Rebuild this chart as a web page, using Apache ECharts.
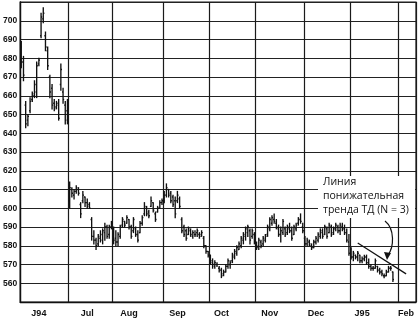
<!DOCTYPE html>
<html><head><meta charset="utf-8">
<script src="https://cdn.jsdelivr.net/npm/echarts@6/dist/echarts.min.js"></script>
<style>html,body{margin:0;padding:0;background:#fff}#c{width:419px;height:324px}</style>
</head><body><div id="c"></div>
<script>
// Month tick labels and trading-day counts per month (category slots)
const monthLabels = ['J94','Jul','Aug','Sep','Oct','Nov','Dec','J95','Feb'];
const monthDays   = [22, 20, 23, 21, 21, 22, 21, 22, 8];
const labelDay    = [8, 8, 7, 6, 5, 6, 5, 5, 3];
const yTicks = [560,570,580,590,600,610,620,630,640,650,660,670,680,690,700];

// OHLC bars per month: [open, high, low, close]
const jun94 = [[686,689,675,678],[678,681,668,671],[655,657,643,645],[647,650,644,649],[652,659,651,657],[658,662,657,661],[660,668,659,666],[662,678,659,676],[677,680,676,679],[692,704,691,702],[701,707,699,704],[692,694,684,686],[684,686,674,676],[670,671,659,662],[664,666,653,655],[656,658,652,653],[654,657,653,656],[655,658,647,648],[666,677,663,674],[662,664,656,658],[655,657,645,647],[652,658,645,646]];
const jul94 = [[604,614,600,611],[610,611,606,608],[607,610,605,609],[609,612,608,611],[610,611,607,608],[602,603,595,597],[604,609,603,607],[606,606,601,603],[603,605,600,601],[602,603,600,600],[594,595,583,585],[585,588,581,583],[583,584,578,580],[581,586,580,585],[584,588,582,586],[583,589,581,588],[587,592,583,590],[590,591,584,585],[586,591,584,590],[590,593,589,592]];
const aug94 = [[589,590,581,583],[584,588,580,582],[582,587,580,586],[585,591,584,590],[591,595,590,594],[593,593,590,591],[592,596,592,595],[594,594,589,590],[590,591,584,585],[588,595,587,594],[589,590,585,586],[586,588,582,583],[587,593,587,592],[592,596,591,595],[597,603,596,601],[600,601,596,597],[598,599,595,596],[601,606,601,604],[603,603,598,599],[597,598,593,594],[598,601,598,600],[600,604,600,603],[603,605,602,604]];
const sep94 = [[604,609,603,607],[607,613,606,611],[610,610,606,607],[608,609,603,604],[606,607,601,602],[604,606,595,597],[604,609,603,607],[605,606,600,601],[594,595,587,588],[590,591,585,586],[588,589,583,584],[586,590,586,589],[588,589,585,586],[585,588,584,587],[586,588,585,586],[587,589,585,588],[586,587,584,585],[586,588,585,587],[584,585,579,580],[580,580,576,577],[577,577,574,575]];
const oct94 = [[575,575,570,571],[572,573,568,570],[569,572,568,571],[570,571,569,570],[568,569,566,567],[567,568,563,564],[565,567,564,566],[566,570,566,569],[569,573,568,572],[570,572,568,571],[572,576,571,575],[574,578,573,577],[576,580,575,579],[578,582,578,581],[580,585,579,584],[583,587,581,586],[585,590,583,589],[587,591,585,590],[588,589,581,583],[585,589,584,588],[586,587,581,582]];
const nov94 = [[580,582,578,579],[580,584,578,583],[582,583,579,580],[581,585,580,584],[583,586,582,585],[586,591,585,590],[589,595,588,594],[592,596,591,595],[594,597,592,593],[592,594,589,590],[589,591,585,586],[586,590,582,588],[587,594,586,593],[589,590,585,586],[587,591,586,590],[589,592,587,588],[588,590,583,584],[586,591,586,590],[589,592,588,591],[592,595,591,594],[594,597,592,593],[590,592,587,588]];
const dec94 = [[584,585,580,581],[581,584,580,583],[582,583,580,581],[580,581,578,579],[579,583,579,582],[582,585,581,584],[583,587,582,586],[585,589,584,588],[587,589,584,585],[586,591,586,590],[589,590,584,585],[587,592,587,591],[590,591,585,586],[587,590,586,589],[589,592,588,591],[590,591,587,588],[588,592,586,591],[590,592,588,589],[589,591,586,587],[587,589,582,583],[582,586,575,576]];
const jan95 = [[578,579,573,574],[574,577,572,576],[575,575,573,574],[574,577,572,576],[575,575,571,572],[572,574,571,573],[573,575,572,574],[574,575,570,571],[571,573,568,569],[569,570,567,568],[568,569,567,568],[568,573,568,572],[569,569,566,567],[567,568,565,566],[566,567,564,565],[564,565,563,564],[564,567,564,566],[566,569,566,568],[568,569,567,568],[566,566,561,562]];
const feb95 = [];

// TD down trend line endpoints [month index, day, value]
const trendStart = [7, 3, 581.5];
const trendEnd   = [8, 3, 565];

const annotation = ['Линия', 'понижательная', 'тренда ТД (N = 3)'];

// ---- build categories and series data ----
const monthsData = [jun94, jul94, aug94, sep94, oct94, nov94, dec94, jan95, feb95];
const categories = [];
const monthStart = [];
const labelByCat = {};
const ohlc = [];
monthDays.forEach((n, m) => {
  monthStart.push(categories.length);
  for (let d = 0; d < n; d++) {
    const name = monthLabels[m] + '-' + (d + 1);
    const idx = categories.length;
    categories.push(name);
    if (d === labelDay[m]) labelByCat[name] = monthLabels[m];
    const bar = monthsData[m][d];
    if (bar) ohlc.push([idx, bar[0], bar[1], bar[2], bar[3]]);
  }
});
const startSet = new Set(monthStart);
const catName = (m, d) => categories[monthStart[m] + d];

const textEls = annotation.map((t, i) => ({
  type: 'text', left: 323, top: 177 + i * 14, z: 20,
  style: {text: t, fill: '#111', font: '10.5px "Open Sans"'}
}));

const chart = echarts.init(document.getElementById('c'), null, {renderer: 'canvas'});
chart.setOption({
  backgroundColor: '#fff',
  animation: false,
  grid: {left: 20, right: 3, top: 2, bottom: 22, show: true, borderColor: '#1a1a1a', borderWidth: 1.2},
  xAxis: {
    type: 'category', data: categories, boundaryGap: true,
    axisLine: {lineStyle: {color: '#111', width: 1.3}},
    axisTick: {interval: (i) => i % 5 === 0 || startSet.has(i), length: 3, lineStyle: {color: '#111', width: 1.2}},
    axisLabel: {
      interval: (i, v) => labelByCat[v] !== undefined,
      formatter: (v) => labelByCat[v] || '',
      color: '#111', fontWeight: 'bold', fontSize: 9, fontFamily: 'Liberation Sans', margin: 7
    },
    splitLine: {show: true, interval: (i) => startSet.has(i), lineStyle: {color: '#1a1a1a', width: 1.2}}
  },
  yAxis: {
    type: 'value', min: 550, max: 710, interval: 10,
    axisLine: {show: true, lineStyle: {color: '#111', width: 1.3}},
    axisTick: {show: false},
    axisLabel: {
      formatter: (v) => yTicks.includes(v) ? String(v) : '',
      color: '#111', fontWeight: 'bold', fontSize: 8.5, fontFamily: 'Liberation Sans', margin: 3
    },
    splitLine: {show: true, lineStyle: {color: '#222', width: 1.1}}
  },
  series: [
    {
      type: 'custom', data: ohlc, encode: {x: 0, y: [1, 2, 3, 4]},
      renderItem: function (params, api) {
        const x = api.value(0);
        const pO = api.coord([x, api.value(1)]);
        const pH = api.coord([x, api.value(2)]);
        const pL = api.coord([x, api.value(3)]);
        const pC = api.coord([x, api.value(4)]);
        const w = api.size([1, 0])[0] * 0.5;
        const style = {stroke: '#111', lineWidth: 1.35};
        return {type: 'group', children: [
          {type: 'line', shape: {x1: pH[0], y1: pH[1] - 0.5, x2: pL[0], y2: pL[1] + 0.5}, style},
          {type: 'line', shape: {x1: pO[0] - w, y1: pO[1], x2: pO[0], y2: pO[1]}, style},
          {type: 'line', shape: {x1: pC[0], y1: pC[1], x2: pC[0] + w, y2: pC[1]}, style}
        ]};
      }
    },
    {
      type: 'line', symbol: 'none', silent: true,
      data: [[catName(trendStart[0], trendStart[1]), trendStart[2]], [catName(trendEnd[0], trendEnd[1]), trendEnd[2]]],
      lineStyle: {color: '#111', width: 1.2}
    }
  ],
  graphic: [
    {type: 'rect', z: 10, shape: {x: 318, y: 176, width: 97, height: 42}, style: {fill: '#fff'}},
    ...textEls,
    {type: 'bezierCurve', shape: {x1: 385, y1: 221, cpx1: 395, cpy1: 229, cpx2: 394, cpy2: 247, x2: 388, y2: 255}, style: {stroke: '#111', lineWidth: 1.2, fill: null}},
    {type: 'polygon', shape: {points: [[384, 252], [391, 253], [387, 260]]}, style: {fill: '#111'}}
  ]
});
</script></body></html>
